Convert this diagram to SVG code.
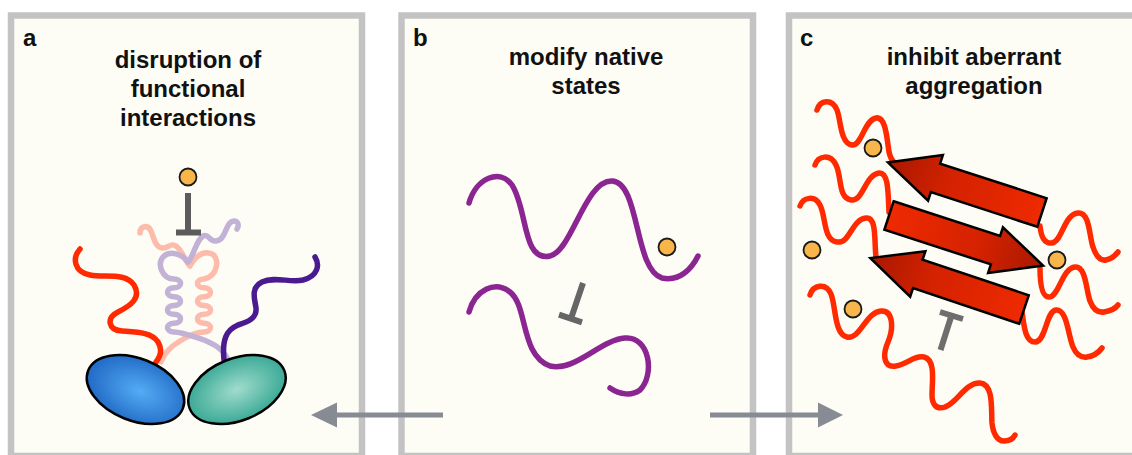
<svg xmlns="http://www.w3.org/2000/svg" width="1132" height="455" viewBox="0 0 1132 455">
<style>
.panel{fill:#fdfdf6;stroke:#c3c3c3;stroke-width:6.5}
.lbl{font-family:"Liberation Sans",Arial,sans-serif;font-weight:bold;font-size:24px;fill:#111}
.ttl{font-family:"Liberation Sans",Arial,sans-serif;font-weight:bold;font-size:24px;fill:#111;text-anchor:middle}
.chain{fill:none;stroke-width:5.5;stroke-linecap:round;stroke-linejoin:round}
.red{stroke:#ff2a00}
.ball{fill:#f7b54a;stroke:#1a1a1a;stroke-width:1.8}
.inh{stroke-width:6;stroke-linecap:butt;fill:none}
.conn{stroke:#878b93;stroke-width:5;fill:none}
.strand{stroke:#000;stroke-width:2.5;stroke-linejoin:miter;fill:url(#strandGrad)}
</style>
<defs>
<radialGradient id="blueGrad" cx="0.55" cy="0.5" r="0.6">
<stop offset="0" stop-color="#54acf4"/>
<stop offset="1" stop-color="#1c64c2"/>
</radialGradient>
<radialGradient id="tealGrad" cx="0.5" cy="0.5" r="0.6">
<stop offset="0" stop-color="#a0dccd"/>
<stop offset="1" stop-color="#29a08c"/>
</radialGradient>
<linearGradient id="strandGrad" x1="0" y1="0" x2="1" y2="0">
<stop offset="0" stop-color="#ee2a00"/>
<stop offset="0.6" stop-color="#d42200"/>
<stop offset="1" stop-color="#a81800"/>
</linearGradient>
<path id="strand" d="M0,-15 L112,-15 L112,-24 L162,0 L112,24 L112,15 L0,15 Z"/>
</defs>

<g id="panel-a">
<rect class="panel" x="11" y="15.5" width="351" height="440.5"/>
<text class="lbl" x="23" y="46">a</text>
<text class="ttl" x="188" y="68">disruption of</text>
<text class="ttl" x="188" y="97">functional</text>
<text class="ttl" x="188" y="126">interactions</text>
<g id="faded-chains" opacity="0.4">
<path class="chain" stroke="#ff5a3c" d="M140,233 C140,226 148,224 151,231 C154,238 155,247 162,248 C169,249 170,242 176,246 C183,251 185,262 190,266 C195,256 204,250 212,254 C220,258 218,276 204,279 C195.3,279 195.3,287.8 204,287.8 C212.7,287.8 212.7,296.7 204,296.7 C195.3,296.7 195.3,305.5 204,305.5 C212.7,305.5 212.7,314.3 204,314.3 C195.3,314.3 195.3,323.2 204,323.2 C212.7,323.2 212.7,332 204,332 C196,332 188,336 180,341 C170,347 164,353 161,362"/>
<path class="chain" stroke="#6a44a8" d="M237,229 C241,222 234,218 229,224 C225,230 224,240 216,241 C209,242 209,233 203,236 C196,240 194,256 188,262 C182,254 170,250 163,257 C157,264 162,279 174,279 C182.7,279 182.7,287.8 174,287.8 C165.3,287.8 165.3,296.7 174,296.7 C182.7,296.7 182.7,305.5 174,305.5 C165.3,305.5 165.3,314.3 174,314.3 C182.7,314.3 182.7,323.2 174,323.2 C165.3,323.2 165.3,332 174,332 C182,332 192,336 204,340 C216,345 224,350 228,360"/>
</g>
<path class="chain red" d="M80,249 C72,258 74,272 90,275 C105,278 125,272 134,285 C142,298 130,306 118,312 C106,318 108,330 122,331 C136,332 152,332 158,342 C163,350 160,357 156,362"/>
<path class="chain" stroke="#4a1a90" d="M315,257 C320,265 318,276 303,280 C290,283 275,276 262,282 C250,288 255,300 256,308 C257,318 248,322 238,325 C226,330 222,340 224,360"/>
<ellipse cx="135.5" cy="389.5" rx="51" ry="31" transform="rotate(22 135.5 389.5)" fill="url(#blueGrad)" stroke="#000" stroke-width="2.5"/>
<ellipse cx="237" cy="389.5" rx="51" ry="31" transform="rotate(-22 237 389.5)" fill="url(#tealGrad)" stroke="#000" stroke-width="2.5"/>
<circle class="ball" cx="188" cy="177" r="8.5"/>
<g stroke="#5c5c5c" class="inh">
<line x1="188" y1="193" x2="188" y2="232"/>
<line x1="176" y1="232.5" x2="201" y2="232.5"/>
</g>
</g>

<g id="panel-b">
<rect class="panel" x="401.5" y="15.5" width="351.5" height="440.5"/>
<text class="lbl" x="413" y="46">b</text>
<text class="ttl" x="586" y="65">modify native</text>
<text class="ttl" x="586" y="94">states</text>
<path class="chain" stroke="#8b2591" d="M469,203 C476,178 500,168 512,185 C528,210 522,262 550,256 C572,251 585,180 612,181 C640,182 634,270 662,278 C680,282 692,268 698,256"/>
<path class="chain" stroke="#8b2591" d="M469,312 C475,290 495,280 510,292 C528,306 520,355 550,366 C575,372 600,340 625,338 C650,336 655,375 640,390 C632,396 620,395 610,388"/>
<circle class="ball" cx="667" cy="247" r="8.5"/>
<g stroke="#666" class="inh">
<line x1="583" y1="283" x2="571" y2="318.5"/>
<line x1="559" y1="314.7" x2="582" y2="322.3"/>
</g>
</g>

<g id="panel-c">
<rect class="panel" x="789" y="15.5" width="360" height="440.5"/>
<text class="lbl" x="800" y="46">c</text>
<text class="ttl" x="974" y="65">inhibit aberrant</text>
<text class="ttl" x="974" y="94">aggregation</text>
<path class="chain red" d="M817,110 C820,100 832,98 837,110 C841,120 840,143 852,145 C862,146 864,120 876,118 C886,116 887,140 889,152 C890,156 891,159 893,161"/>
<path class="chain red" d="M815,165 C818,156 830,153 836,165 C842,177 838,198 851,200 C863,202 865,175 879,173 C889,172 888,195 889,212"/>
<path class="chain red" d="M800,206 C803,197 815,195 820,205 C826,216 823,240 837,242 C850,244 852,219 866,218 C877,217 874,240 876,257"/>
<path class="chain red" d="M810,295 C813,285 826,282 831,294 C836,306 834,334 847,337 C860,340 866,312 881,311 C893,310 894,328 888,342 C882,356 884,368 896,366 C908,364 914,355 924,357 C936,360 932,382 932,395 C932,404 936,410 945,407 C956,404 966,382 980,383 C994,384 991,410 992,423 C993,433 997,441 1004,441 C1009,441 1013,439 1015,435"/>
<path class="chain red" d="M1040,226 C1041,236 1044,244 1052,243 C1062,242 1064,214 1078,213 C1090,212 1089,236 1093,247 C1096,256 1100,261 1106,260 C1111,259 1115,256 1118,252"/>
<path class="chain red" d="M1040,268 C1040,280 1041,297 1049,297 C1059,297 1062,268 1075,267 C1086,266 1086,290 1090,301 C1093,309 1097,313 1104,312 C1110,311 1115,309 1118,305"/>
<path class="chain red" d="M1022,312 C1024,325 1025,342 1035,342 C1046,342 1046,311 1056,310 C1067,309 1068,335 1073,347 C1076,354 1080,358 1087,357 C1094,356 1099,352 1102,348"/>
<use href="#strand" class="strand" transform="translate(1042,212.5) rotate(198)"/>
<use href="#strand" class="strand" transform="translate(889,215.5) rotate(18)"/>
<use href="#strand" class="strand" transform="translate(1024,309.5) rotate(198.5)"/>
<circle class="ball" cx="873" cy="148" r="8.5"/>
<circle class="ball" cx="812" cy="250" r="8.5"/>
<circle class="ball" cx="1057" cy="260" r="8.5"/>
<circle class="ball" cx="853" cy="309" r="8.5"/>
<g stroke="#6e6e6e" class="inh">
<line x1="940" y1="312" x2="963" y2="319"/>
<line x1="951.5" y1="315.5" x2="940.5" y2="350"/>
</g>
</g>

<g id="connectors">
<line class="conn" x1="443" y1="415" x2="334" y2="415"/>
<polygon points="311,415 337,402.5 337,427.5" fill="#878b93"/>
<line class="conn" x1="710" y1="415" x2="820" y2="415"/>
<polygon points="843,415 818,402.5 818,427.5" fill="#878b93"/>
</g>
</svg>
